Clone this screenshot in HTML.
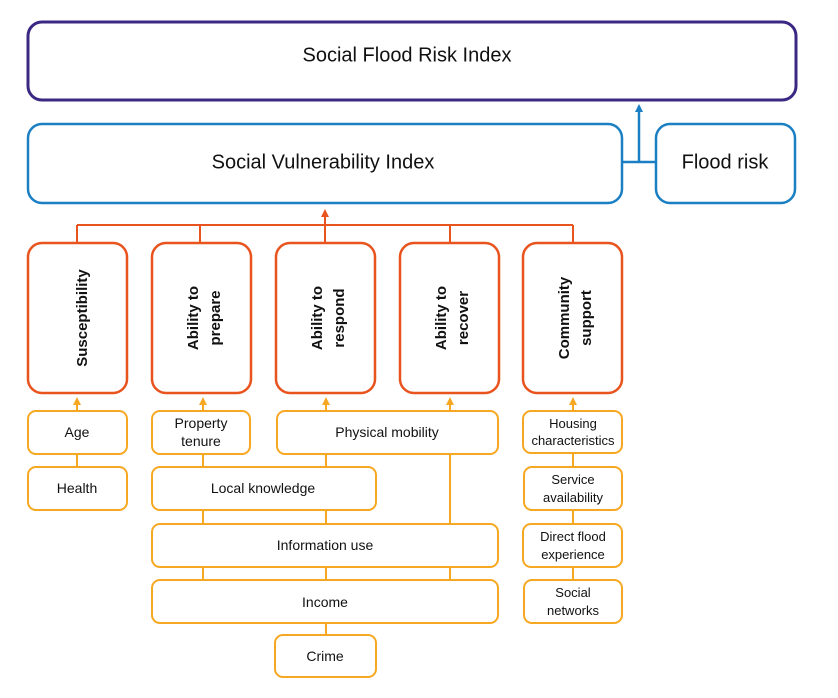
<!DOCTYPE html>
<html><head><meta charset="utf-8"><style>
html,body{margin:0;padding:0;background:#fff;}
svg{display:block;font-family:"Liberation Sans",sans-serif;}
</style></head><body>
<svg width="838" height="698" viewBox="0 0 838 698" xmlns="http://www.w3.org/2000/svg">
<defs>
<marker id="ab" markerWidth="10" markerHeight="10" refX="6" refY="4" orient="auto" markerUnits="userSpaceOnUse"><path d="M0,0 L8,4 L0,8 Z" fill="#1b7fc4"/></marker>
<marker id="ao" markerWidth="10" markerHeight="10" refX="6" refY="4" orient="auto" markerUnits="userSpaceOnUse"><path d="M0,0 L8,4 L0,8 Z" fill="#e8531e"/></marker>
<marker id="ay" markerWidth="10" markerHeight="10" refX="6" refY="4" orient="auto" markerUnits="userSpaceOnUse"><path d="M0,0 L8,4 L0,8 Z" fill="#f7a823"/></marker>
</defs>

<rect x="28" y="22" width="768" height="78" rx="14" fill="#fff" stroke="#3b2883" stroke-width="3"/>
<text x="407" y="56" font-size="20" text-anchor="middle" dominant-baseline="middle" fill="#111">Social Flood Risk Index</text>

<g stroke="#1b7fc4" stroke-width="2.5" fill="none">
<line x1="622" y1="162" x2="656" y2="162"/>
<line x1="639" y1="162" x2="639" y2="106" marker-end="url(#ab)"/>
</g>
<rect x="28" y="124" width="594" height="79" rx="14" fill="#fff" stroke="#1b7fc4" stroke-width="2.5"/>
<text x="323" y="163" font-size="20" text-anchor="middle" dominant-baseline="middle" fill="#111">Social Vulnerability Index</text>
<rect x="656" y="124" width="139" height="79" rx="14" fill="#fff" stroke="#1b7fc4" stroke-width="2.5"/>
<text x="725" y="163" font-size="20" text-anchor="middle" dominant-baseline="middle" fill="#111">Flood risk</text>

<g stroke="#e8531e" stroke-width="2" fill="none">
<line x1="77" y1="225" x2="573" y2="225"/>
<line x1="77" y1="225" x2="77" y2="243"/>
<line x1="200" y1="225" x2="200" y2="243"/>
<line x1="450" y1="225" x2="450" y2="243"/>
<line x1="573" y1="225" x2="573" y2="243"/>
<line x1="325" y1="243" x2="325" y2="211" marker-end="url(#ao)"/>
</g>

<g font-size="15" font-weight="bold" fill="#111">
<rect x="28" y="243" width="99" height="150" rx="14" fill="#fff" stroke="#e8531e" stroke-width="2.5"/>
<text transform="translate(83,318) rotate(-90)" text-anchor="middle" dominant-baseline="middle">Susceptibility</text>
<rect x="152" y="243" width="99" height="150" rx="14" fill="#fff" stroke="#e8531e" stroke-width="2.5"/>
<text transform="translate(201,318) rotate(-90)" text-anchor="middle"><tspan x="0" dy="-3">Ability to</tspan><tspan x="0" dy="22">prepare</tspan></text>
<rect x="276" y="243" width="99" height="150" rx="14" fill="#fff" stroke="#e8531e" stroke-width="2.5"/>
<text transform="translate(325,318) rotate(-90)" text-anchor="middle"><tspan x="0" dy="-3">Ability to</tspan><tspan x="0" dy="22">respond</tspan></text>
<rect x="400" y="243" width="99" height="150" rx="14" fill="#fff" stroke="#e8531e" stroke-width="2.5"/>
<text transform="translate(449,318) rotate(-90)" text-anchor="middle"><tspan x="0" dy="-3">Ability to</tspan><tspan x="0" dy="22">recover</tspan></text>
<rect x="523" y="243" width="99" height="150" rx="14" fill="#fff" stroke="#e8531e" stroke-width="2.5"/>
<text transform="translate(572,318) rotate(-90)" text-anchor="middle"><tspan x="0" dy="-3">Community</tspan><tspan x="0" dy="22">support</tspan></text>
</g>

<g stroke="#f7a823" stroke-width="2" fill="none">
<line x1="77" y1="411" x2="77" y2="399" marker-end="url(#ay)"/>
<line x1="203" y1="411" x2="203" y2="399" marker-end="url(#ay)"/>
<line x1="326" y1="411" x2="326" y2="399" marker-end="url(#ay)"/>
<line x1="450" y1="411" x2="450" y2="399" marker-end="url(#ay)"/>
<line x1="573" y1="411" x2="573" y2="399" marker-end="url(#ay)"/>
<line x1="77" y1="454" x2="77" y2="467"/>
<line x1="203" y1="454" x2="203" y2="624"/>
<line x1="326" y1="454" x2="326" y2="635"/>
<line x1="450" y1="454" x2="450" y2="580"/>
<line x1="573" y1="453" x2="573" y2="580"/>
</g>

<g font-size="14" fill="#111" text-anchor="middle">
<rect x="28" y="411" width="99" height="43" rx="8" fill="#fff" stroke="#f7a823" stroke-width="2"/>
<text x="77" y="437">Age</text>
<rect x="28" y="467" width="99" height="43" rx="8" fill="#fff" stroke="#f7a823" stroke-width="2"/>
<text x="77" y="493">Health</text>
<rect x="152" y="411" width="98" height="43" rx="8" fill="#fff" stroke="#f7a823" stroke-width="2"/>
<text x="201" y="428">Property<tspan x="201" dy="18">tenure</tspan></text>
<rect x="277" y="411" width="221" height="43" rx="8" fill="#fff" stroke="#f7a823" stroke-width="2"/>
<text x="387" y="437">Physical mobility</text>
<rect x="152" y="467" width="224" height="43" rx="8" fill="#fff" stroke="#f7a823" stroke-width="2"/>
<text x="263" y="493">Local knowledge</text>
<rect x="152" y="524" width="346" height="43" rx="8" fill="#fff" stroke="#f7a823" stroke-width="2"/>
<text x="325" y="550">Information use</text>
<rect x="152" y="580" width="346" height="43" rx="8" fill="#fff" stroke="#f7a823" stroke-width="2"/>
<text x="325" y="607">Income</text>
<rect x="275" y="635" width="101" height="42" rx="8" fill="#fff" stroke="#f7a823" stroke-width="2"/>
<text x="325" y="661">Crime</text>
<g font-size="13">
<rect x="523" y="411" width="99" height="42" rx="8" fill="#fff" stroke="#f7a823" stroke-width="2"/>
<text x="573" y="428">Housing<tspan x="573" dy="17">characteristics</tspan></text>
<rect x="524" y="467" width="98" height="43" rx="8" fill="#fff" stroke="#f7a823" stroke-width="2"/>
<text x="573" y="484">Service<tspan x="573" dy="18">availability</tspan></text>
<rect x="523" y="524" width="99" height="43" rx="8" fill="#fff" stroke="#f7a823" stroke-width="2"/>
<text x="573" y="541">Direct flood<tspan x="573" dy="18">experience</tspan></text>
<rect x="524" y="580" width="98" height="43" rx="8" fill="#fff" stroke="#f7a823" stroke-width="2"/>
<text x="573" y="597">Social<tspan x="573" dy="18">networks</tspan></text>
</g>
</g>
</svg>
</body></html>
